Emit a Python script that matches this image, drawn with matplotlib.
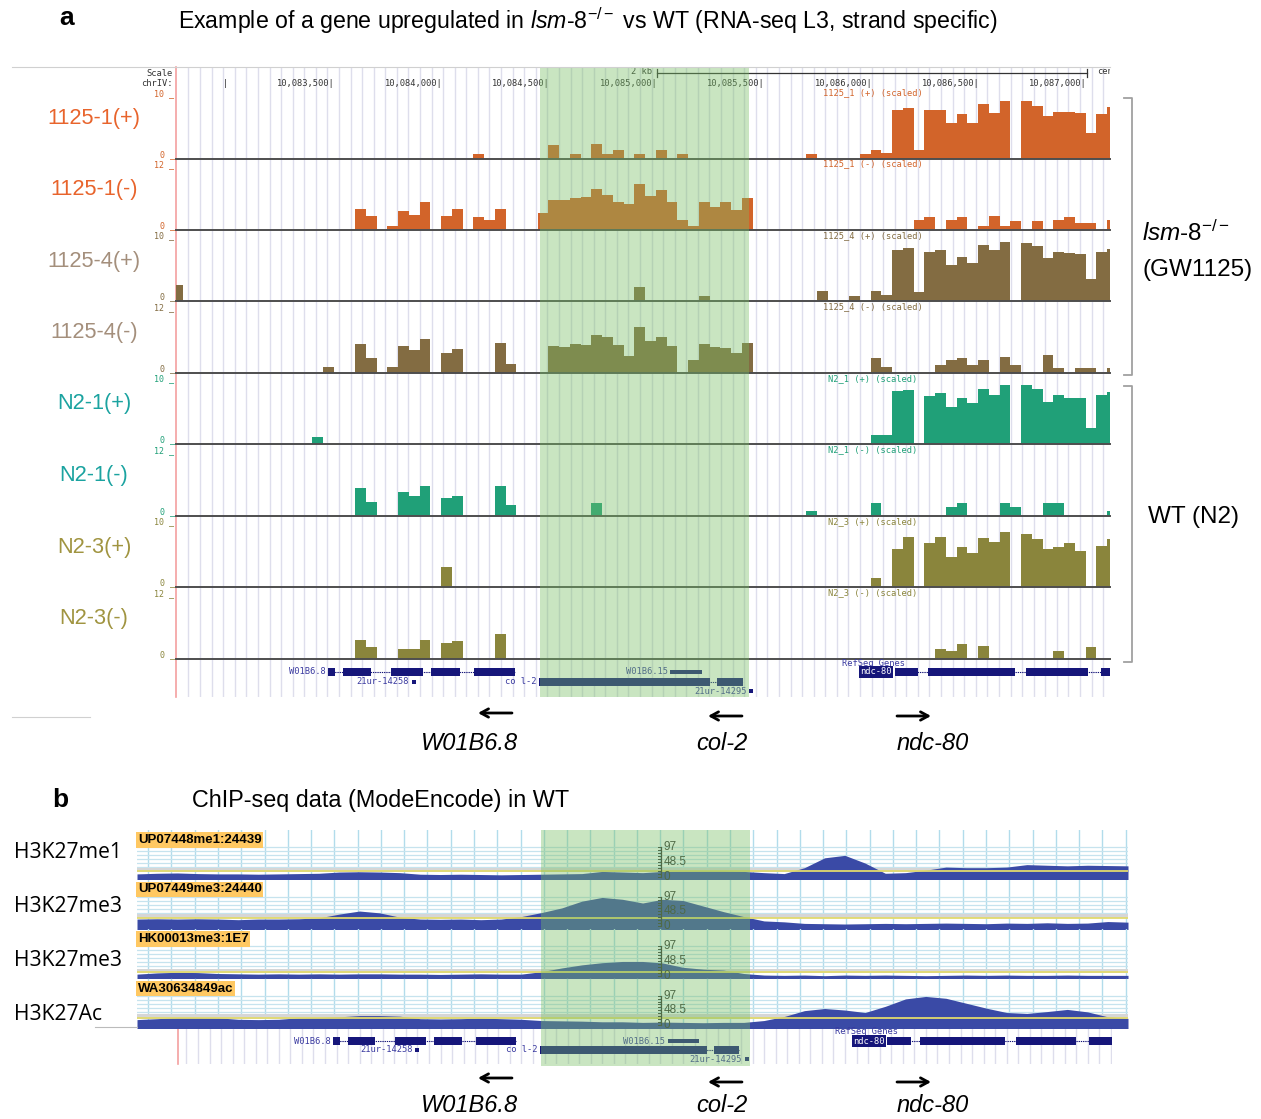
import matplotlib
matplotlib.use("Agg")
import matplotlib.pyplot as plt
import numpy as np
from matplotlib.patches import Rectangle

plt.rcParams['font.family'] = ['Liberation Sans', 'DejaVu Sans']
plt.rcParams['mathtext.fontset'] = 'custom'
plt.rcParams['mathtext.rm'] = 'Liberation Sans'
plt.rcParams['mathtext.it'] = 'Liberation Sans:italic'

# ======================= DATA =======================
# ---- panel a: RNA-seq, chrIV window, 50-bp bins ----
A_WINDOW = (10_082_759, 10_087_107)
BIN_ORIGIN = 10_082_743
BIN_SIZE = 50
HIGHLIGHT = (10_084_455, 10_085_425)
COORD_TICKS = [10_083_000, 10_083_500, 10_084_000, 10_084_500, 10_085_000,
               10_085_500, 10_086_000, 10_086_500, 10_087_000]
SCALE_BAR = (10_085_000, 10_087_000)

track_names = ["1125-1(+)", "1125-1(-)", "1125-4(+)", "1125-4(-)",
               "N2-1(+)", "N2-1(-)", "N2-3(+)", "N2-3(-)"]
track_titles = ["1125_1 (+) (scaled)", "1125_1 (-) (scaled)",
                "1125_4 (+) (scaled)", "1125_4 (-) (scaled)",
                "N2_1 (+) (scaled)", "N2_1 (-) (scaled)",
                "N2_3 (+) (scaled)", "N2_3 (-) (scaled)"]
track_max = [10, 12, 10, 12, 10, 12, 10, 12]

# bin index -> coverage value
bins_1125_1_plus = {28: 0.75, 35: 2.0, 37: 0.75, 39: 2.15, 40: 0.75, 41: 1.25, 43: 0.7,
                    45: 1.36, 47: 0.75, 59: 0.75, 64: 0.75, 65: 1.36, 66: 0.85, 67: 7.4,
                    68: 7.7, 69: 1.36, 70: 7.3, 71: 7.3, 72: 5.4, 73: 6.7, 74: 5.4, 75: 8.3,
                    76: 6.9, 77: 8.7, 79: 8.7, 80: 8.0, 81: 6.4, 82: 7.1, 83: 7.0, 84: 6.9,
                    85: 3.8, 86: 6.7, 87: 7.8}
bins_1125_1_minus = {17: 3.8, 18: 2.4, 20: 0.6, 21: 3.3, 22: 2.7, 23: 5.0, 25: 2.4, 26: 3.8,
                     28: 2.2, 29: 1.7, 30: 3.8, 34: 3.0, 35: 5.3, 36: 5.45, 37: 5.8, 38: 5.9,
                     39: 7.3, 40: 6.2, 41: 5.0, 42: 4.6, 43: 8.2, 44: 6.1, 45: 7.2, 46: 5.0,
                     47: 1.7, 48: 0.6, 49: 5.0, 50: 4.1, 51: 5.0, 52: 3.5, 53: 5.8,
                     69: 1.7, 70: 2.2, 72: 1.7, 73: 2.2, 75: 0.6, 76: 2.5, 77: 0.7, 78: 1.5,
                     80: 1.5, 82: 1.8, 83: 2.2, 84: 1.1, 85: 1.1, 87: 1.8}
bins_1125_4_plus = {0: 2.5, 43: 2.1, 49: 0.8, 60: 1.5, 63: 0.8, 65: 1.5, 66: 0.9, 67: 7.7,
                    68: 8.1, 69: 1.4, 70: 7.5, 71: 7.8, 72: 5.5, 73: 6.7, 74: 5.7, 75: 8.5,
                    76: 7.7, 77: 9.0, 79: 8.8, 80: 8.3, 81: 6.5, 82: 7.4, 83: 7.2, 84: 7.1,
                    85: 3.4, 86: 7.5, 87: 7.9}
bins_1125_4_minus = {14: 1.0, 17: 5.2, 18: 2.7, 20: 1.0, 21: 4.9, 22: 4.1, 23: 6.1, 25: 3.6,
                     26: 4.2, 30: 5.3, 31: 1.5, 35: 4.9, 36: 4.6, 37: 5.2, 38: 5.0, 39: 6.8,
                     40: 6.4, 41: 5.0, 42: 3.0, 43: 8.2, 44: 5.8, 45: 6.5, 46: 4.9, 48: 2.3,
                     49: 5.2, 50: 4.7, 51: 4.5, 52: 3.5, 53: 5.3, 65: 2.7, 66: 1.0, 71: 1.4,
                     72: 2.2, 73: 2.7, 74: 1.4, 75: 2.2, 77: 2.9, 78: 1.4, 81: 3.2, 82: 0.9,
                     84: 0.9, 85: 0.9, 87: 0.9}
bins_n2_1_plus = {13: 1.0, 65: 1.4, 66: 1.4, 67: 8.0, 68: 8.2, 70: 7.3, 71: 7.8, 72: 5.6,
                  73: 7.0, 74: 6.2, 75: 8.3, 76: 7.4, 77: 8.9, 79: 8.9, 80: 8.4, 81: 6.3,
                  82: 7.4, 83: 7.0, 84: 7.0, 85: 2.4, 86: 7.4, 87: 7.9}
bins_n2_1_minus = {17: 5.0, 18: 2.5, 21: 4.2, 22: 3.6, 23: 5.3, 25: 3.2, 26: 3.6, 30: 5.3,
                   31: 1.9, 39: 2.3, 59: 0.9, 65: 2.3, 72: 1.6, 73: 2.3, 77: 2.3, 78: 1.6,
                   81: 2.3, 82: 2.3, 87: 0.9}
bins_n2_3_plus = {25: 3.1, 65: 1.3, 67: 5.8, 68: 7.5, 70: 6.7, 71: 7.5, 72: 4.6, 73: 6.0,
                  74: 5.2, 75: 7.4, 76: 6.8, 77: 8.4, 79: 8.1, 80: 7.3, 81: 5.7, 82: 6.0,
                  83: 6.6, 84: 5.5, 86: 6.2, 87: 7.3}
bins_n2_3_minus = {17: 3.3, 18: 2.1, 21: 1.8, 22: 1.8, 23: 3.3, 25: 2.8, 26: 3.2, 30: 4.4,
                   71: 1.8, 72: 1.4, 73: 2.6, 75: 2.3, 82: 1.4, 85: 2.1}
track_bins = [bins_1125_1_plus, bins_1125_1_minus, bins_1125_4_plus, bins_1125_4_minus,
              bins_n2_1_plus, bins_n2_1_minus, bins_n2_3_plus, bins_n2_3_minus]

# ---- gene models (RefSeq) ----
gene_names = ["W01B6.8", "21ur-14258", "col-2", "W01B6.15", "21ur-14295", "ndc-80"]
gene_rows = [0, 1, 1, 0, 2, 0]
gene_exons = [
    [(10_083_467, 10_083_500), (10_083_537, 10_083_668), (10_083_761, 10_083_910),
     (10_083_947, 10_084_082), (10_084_147, 10_084_338)],
    [(10_083_856, 10_083_874)],
    [(10_084_450, 10_085_247), (10_085_279, 10_085_400)],
    [(10_085_060, 10_085_209)],
    [(10_085_426, 10_085_444)],
    [(10_086_104, 10_086_215), (10_086_262, 10_086_667), (10_086_718, 10_087_003),
     (10_087_063, 10_087_200)],
]
gene_thin = [False, False, False, True, False, False]
arrow_genes = ["W01B6.8", "col-2", "ndc-80"]

# ---- panel b: ChIP-seq (modENCODE) ----
CHIP_WINDOW = (10_082_580, 10_087_179)
B_GENE_WINDOW = (10_082_728, 10_087_174)
chip_labels = ["UP07448me1:24439", "UP07449me3:24440", "HK00013me3:1E7", "WA30634849ac"]
chip_marks = ["H3K27me1", "H3K27me3", "H3K27me3", "H3K27Ac"]
chip_scale = ["97", "48.5", "0"]
chip_h3k27me1 = [10, 12, 13, 11, 10, 10, 9, 10, 11, 12, 16, 17, 16, 14, 9, 8, 9, 8, 7, 8,
                 9, 10, 11, 18, 16, 14, 18, 19, 20, 20, 18, 14, 11, 30, 62, 70, 45, 12, 14, 22,
                 32, 30, 30, 32, 40, 38, 36, 38, 37, 36]
chip_h3k27me3_a = [24, 25, 24, 25, 24, 22, 24, 24, 25, 28, 40, 50, 44, 30, 24, 23, 24, 22, 24, 32,
                   45, 60, 82, 94, 88, 76, 88, 84, 66, 48, 32, 18, 15, 10, 9, 8, 9, 10, 9, 10,
                   11, 10, 9, 11, 10, 12, 10, 11, 16, 14]
chip_h3k27me3_b = [6, 10, 12, 11, 8, 7, 6, 7, 6, 7, 6, 7, 7, 6, 6, 5, 6, 7, 6, 6,
                   14, 26, 36, 43, 47, 47, 42, 28, 22, 19, 8, 3, 2, 3, 1, 3, 2, 3, 2, 1,
                   2, 3, 2, 3, 2, 2, 3, 2, 2, 2]
chip_h3k27ac = [19, 22, 26, 26, 25, 20, 19, 20, 25, 26, 28, 32, 32, 30, 22, 21, 22, 24, 22, 20,
                16, 15, 14, 12, 12, 10, 11, 10, 9, 10, 10, 16, 29, 48, 55, 50, 42, 62, 86, 94,
                88, 72, 56, 42, 39, 45, 52, 44, 28, 23]
chip_signals = [chip_h3k27me1, chip_h3k27me3_a, chip_h3k27me3_b, chip_h3k27ac]
chip_ref_line = [18, 29, 12, 25]

# ======================= STYLE / LAYOUT =======================
W, H = 1261, 1119
bar_colors = ["#D2642A", "#D2642A", "#836C42", "#836C42",
              "#20A078", "#20A078", "#8A853C", "#8A853C"]
name_colors = ["#E8642C", "#E8642C", "#A48F7C", "#A48F7C",
               "#1BA3A0", "#1BA3A0", "#A09440", "#A09440"]
GREEN = "#78BE64"
NAVY = "#16167A"
MONO = "DejaVu Sans Mono"

fig = plt.figure(figsize=(W / 100, H / 100), dpi=100)


def px_axes(x0, y0, x1, y1, z=1):
    ax = fig.add_axes([x0 / W, 1 - y1 / H, (x1 - x0) / W, (y1 - y0) / H])
    ax.set_zorder(z)
    ax.set_axis_off()
    ax.patch.set_visible(False)
    return ax


T = px_axes(0, 0, W, H, z=20)
T.set_xlim(0, W)
T.set_ylim(H, 0)

# ---------------- titles ----------------
T.text(67, 18, "a", fontsize=19, fontweight="bold", ha="center", va="center")
T.text(178, 21, r"Example of a gene upregulated in $\mathit{lsm}$-$\mathit{8}^{-/-}$ vs WT "
       r"(RNA-seq L3, strand specific)", fontsize=16.7, ha="left", va="center")
T.text(60, 800, "b", fontsize=19, fontweight="bold", ha="center", va="center")
T.text(192, 800, "ChIP-seq data (ModeEncode) in WT", fontsize=16.8, ha="left", va="center")

# image border lines
T.plot([12, 1110], [67, 67], color="#D0D0D0", lw=0.8)
T.plot([12, 90], [717, 717], color="#D0D0D0", lw=0.8)

# ---------------- panel a background ----------------
A_X0, A_X1 = 176, 1110
A_TOP, A_BOT = 67, 697
bgA = px_axes(A_X0, A_TOP, A_X1, A_BOT, z=1)
bgA.set_xlim(*A_WINDOW)
bgA.set_ylim(A_BOT, A_TOP)
for g in np.arange(A_WINDOW[0] + 58, A_WINDOW[1], 53.9):
    bgA.axvline(g, color="#DEDEEC", lw=1, zorder=0)
bgA.axvline(A_WINDOW[0], color="#F4A0A0", lw=1.2, clip_on=False, zorder=3)

# header: ruler
T.text(173, 73, "Scale", ha="right", va="center", fontsize=6.3, family=MONO, color="#333")
T.text(173, 83, "chrIV:", ha="right", va="center", fontsize=6.3, family=MONO, color="#333")
for t in COORD_TICKS:
    lab = "|" if t == COORD_TICKS[0] else f"{t:,}|"
    bgA.text(t, 83, lab, ha="right", va="center", fontsize=6.3, family=MONO, color="#333")
bgA.plot(SCALE_BAR, [73, 73], color="#333", lw=0.9)
for sx in SCALE_BAR:
    bgA.plot([sx, sx], [69, 77], color="#333", lw=0.9)
bgA.text(SCALE_BAR[0], 72, "2 kb ", ha="right", va="center", fontsize=6.3, family=MONO,
         color="#333")
bgA.text(SCALE_BAR[1] + 45, 72, "cen", ha="left", va="center", fontsize=6.3, family=MONO,
         color="#333", clip_on=True)

# ---------------- panel a tracks ----------------
A_BASE = [158.5, 229.5, 301, 372.5, 444, 515.5, 587, 658.5]
A_TH = 66
for i in range(8):
    base = A_BASE[i]
    ax = px_axes(A_X0, base - A_TH, A_X1, base, z=2)
    ax.set_xlim(*A_WINDOW)
    ax.set_ylim(0, track_max[i])
    d = track_bins[i]
    idx = np.array(sorted(d))
    vals = np.array([d[k] for k in idx])
    ax.bar(BIN_ORIGIN + idx * BIN_SIZE, vals, width=BIN_SIZE, align="edge",
           color=bar_colors[i], lw=0)
    ax.axhline(0, color="#4E4E4E", lw=1.4, clip_on=False)
    # labels
    T.text(94, base - 40, track_names[i], ha="center", va="center", fontsize=15.7,
           color=name_colors[i])
    T.text(873, base - A_TH + 0.5, track_titles[i], ha="center", va="center", fontsize=6.3,
           family=MONO, color=bar_colors[i])
    T.text(174.5, base - A_TH + 1, f"{track_max[i]} _", ha="right", va="center",
           fontsize=6.0, family=MONO, color=bar_colors[i])
    T.text(174.5, base - 4, "0 _", ha="right", va="center", fontsize=6.0, family=MONO,
           color=bar_colors[i])


# ---------------- gene tracks ----------------
def draw_genes(ax, row_y, show_refseq_y):
    for name, row, exons, thin in zip(gene_names, gene_rows, gene_exons, gene_thin):
        y = row_y[row]
        s0 = min(e[0] for e in exons)
        s1 = max(e[1] for e in exons)
        if len(exons) > 1:
            ax.plot([s0, s1], [y, y], color=NAVY, lw=0.8, ls=(0, (1.2, 0.8)), zorder=2)
        h = 4 if thin else 8
        if name.startswith("21ur"):
            h = 4
        for (a, b) in exons:
            ax.add_patch(Rectangle((a, y - h / 2), b - a, h, color=NAVY, lw=0, zorder=3))
        if name == "ndc-80":
            ax.text(s0 - 12, y, name, ha="right", va="center", fontsize=6.3, family=MONO,
                    color="white", zorder=4,
                    bbox=dict(boxstyle="square,pad=0.12", fc=NAVY, ec="none"))
            ax.text(s0 - 100, show_refseq_y, "RefSeq Genes", ha="center", va="center",
                    fontsize=6.3, family=MONO, color="#3A3AA0")
        else:
            lab = name.replace("col-2", "co l-2")
            ax.text(s0 - 12, y, lab, ha="right", va="center", fontsize=6.3, family=MONO,
                    color="#3A3AA0", zorder=4)


gA = px_axes(A_X0, 660, A_X1, 697, z=3)
gA.set_xlim(*A_WINDOW)
gA.set_ylim(37, 0)
draw_genes(gA, [12, 22, 31], 3)

# highlight overlay a
ovA = px_axes(A_X0, A_TOP, A_X1, A_BOT, z=5)
ovA.set_xlim(*A_WINDOW)
ovA.axvspan(*HIGHLIGHT, color=GREEN, alpha=0.4, lw=0)

# brackets
for (y0, y1) in [(98, 375), (386, 662)]:
    T.plot([1124, 1132, 1132, 1124], [y0, y0, y1, y1], color="#A0A0A0", lw=1.3)
T.text(1186, 233, r"$\mathit{lsm}$-$\mathit{8}^{-/-}$", fontsize=17.5, ha="center",
       va="center")
T.text(1198, 270, "(GW1125)", fontsize=17.5, ha="center", va="center")
T.text(1193, 517, "WT (N2)", fontsize=17.5, ha="center", va="center")


# gene arrows
def gene_arrows(y_arrow, y_name):
    specs = {"W01B6.8": (512, 478, 470), "col-2": (742, 708, 722), "ndc-80": (897, 931, 933)}
    for g in arrow_genes:
        xs, xe, xn = specs[g]
        T.annotate("", xy=(xe, y_arrow[g]), xytext=(xs, y_arrow[g]),
                   arrowprops=dict(arrowstyle="->,head_length=0.55,head_width=0.3",
                                   lw=2.0, color="black", shrinkA=0, shrinkB=0))
        T.text(xn, y_name, g, fontsize=17, style="italic", ha="center", va="center")


gene_arrows({"W01B6.8": 713, "col-2": 716, "ndc-80": 716}, 744)

# ---------------- panel b: ChIP ----------------
B_X0, B_X1 = 137, 1128
chip_tops = [830, 879.5, 929, 978.5]
chip_mark_y = [852, 906, 961, 1015]
CH = 49
n = len(chip_h3k27me1)
chip_x = np.linspace(CHIP_WINDOW[0], CHIP_WINDOW[1], n)
RULER_X = 10_085_012
for k in range(4):
    top = chip_tops[k]
    ax = px_axes(B_X0, top, B_X1, top + CH, z=2)
    ax.patch.set_visible(True)
    ax.patch.set_facecolor("white")
    ax.set_xlim(*CHIP_WINDOW)
    ax.set_ylim(-6.5, 152)
    for g in np.arange(CHIP_WINDOW[0] + 52, CHIP_WINDOW[1], 108):
        ax.axvline(g, color="#B2DCEB", lw=1, zorder=0)
    for hl in np.arange(97, 20, -13):
        ax.axhline(hl, color="#C6E3EE", lw=0.9, zorder=0)
    ax.axhspan(chip_ref_line[k] - 3, chip_ref_line[k] + 12, color="#D6D6D6", lw=0, zorder=1)
    ax.fill_between(chip_x, -10, chip_signals[k], color="#3A4AA6", lw=0, zorder=2)
    ax.axhline(chip_ref_line[k], color="#E2DA6E", lw=1.3, zorder=3)
    # scale ruler
    ax.plot([RULER_X, RULER_X], [0, 97], color="#333", lw=0.9, zorder=4)
    for v in np.linspace(0, 97, 11):
        ax.plot([RULER_X - 14, RULER_X], [v, v], color="#333", lw=0.7, zorder=4)
    for lab, v in zip(chip_scale, [97, 48.5, 0]):
        ax.text(RULER_X + 12, v, lab, fontsize=8.5, color="#333", ha="left", va="center",
                zorder=4)
    T.text(138, top + 10, chip_labels[k], fontsize=9.5, fontweight="bold", ha="left",
           va="center", bbox=dict(boxstyle="square,pad=0.12", fc="#FFC862", ec="none"))
    T.text(14, chip_mark_y[k], chip_marks[k], fontsize=15.2, ha="left", va="center",
           family=["Open Sans", "DejaVu Sans"])

T.plot([95, B_X0], [1027, 1027], color="#BBBBBB", lw=0.8)

# gene track b
B_GX0, B_GX1 = 178, 1112
bgB = px_axes(B_GX0, 1027, B_GX1, 1064, z=1)
bgB.set_xlim(*B_GENE_WINDOW)
bgB.set_ylim(37, 0)
for g in np.arange(B_GENE_WINDOW[0] + 40, B_GENE_WINDOW[1], 55):
    bgB.axvline(g, color="#DEDEEC", lw=1, zorder=0)
bgB.axvline(B_GENE_WINDOW[0], color="#F4A0A0", lw=1.2, clip_on=False)
gB = px_axes(B_GX0, 1027, B_GX1, 1066, z=3)
gB.set_xlim(*B_GENE_WINDOW)
gB.set_ylim(39, 0)
draw_genes(gB, [14, 23, 32], 4)

ovB = px_axes(B_X0, 830, B_X1, 1066, z=5)
ovB.set_xlim(*CHIP_WINDOW)
ovB.axvspan(*HIGHLIGHT, color=GREEN, alpha=0.4, lw=0)

gene_arrows({"W01B6.8": 1078, "col-2": 1082, "ndc-80": 1082}, 1106)

fig.savefig("out.png", dpi=100)
